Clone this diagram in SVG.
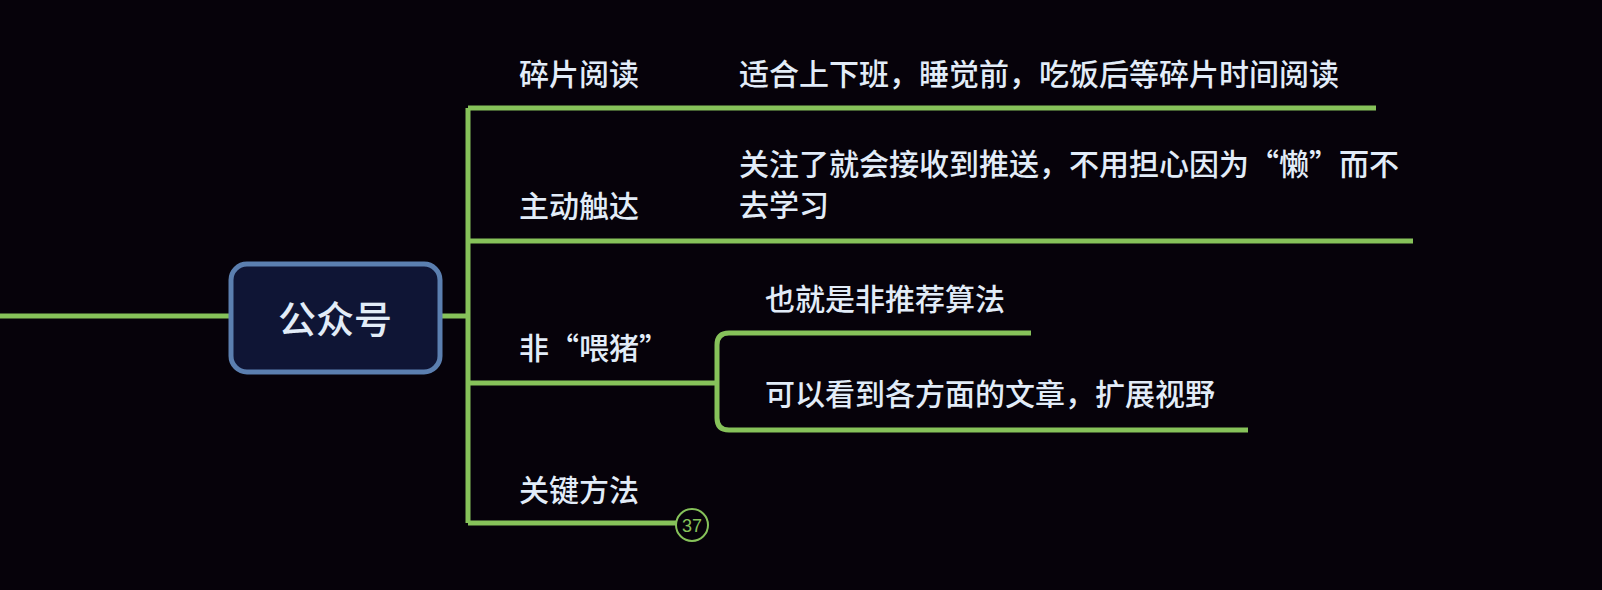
<svg xmlns="http://www.w3.org/2000/svg" width="1602" height="590" viewBox="0 0 1602 590">
<style>
.l{fill:none;stroke:#86c25a;stroke-width:5}
.t{font-family:"Noto Sans CJK SC",sans-serif;font-size:30px;font-weight:500;fill:#e2ecf8}
</style>
<rect width="1602" height="590" fill="#06020a"/>
<g id="connectors">
<path class="l" d="M0 316H230M441 316H468M468 108V523M468 108H1376M468 241H1413M468 383H717M468 523H676"/>
<path class="l" d="M717 383V345Q717 333 729 333H1031M717 383V418Q717 430 729 430H1248"/>
</g>
<g id="center">
<rect x="231" y="264" width="209" height="108" rx="16" fill="#0f1535" stroke="#5b7fb0" stroke-width="5"/>
<text x="335" y="333" text-anchor="middle" class="t" style="font-size:38px">公众号</text>
</g>
<g id="n1"><text x="519" y="85" class="t">碎片阅读</text><text x="739" y="85" class="t">适合上下班，睡觉前，吃饭后等碎片时间阅读</text></g>
<g id="n2"><text x="519" y="217" class="t">主动触达</text><text x="739" y="175" class="t">关注了就会接收到推送，不用担心因为“懒”而不</text><text x="739" y="216" class="t">去学习</text></g>
<g id="n3"><text x="519" y="359" class="t">非“喂猪”</text><text x="765" y="310" class="t">也就是非推荐算法</text><text x="765" y="405" class="t">可以看到各方面的文章，扩展视野</text></g>
<g id="n4"><text x="519" y="501" class="t">关键方法</text>
<circle cx="692" cy="525" r="16" fill="#06020a" stroke="#86c25a" stroke-width="2"/>
<text x="692" y="532" text-anchor="middle" style="font-family:'Liberation Sans',sans-serif;font-size:18px;fill:#86c25a">37</text></g>
</svg>
